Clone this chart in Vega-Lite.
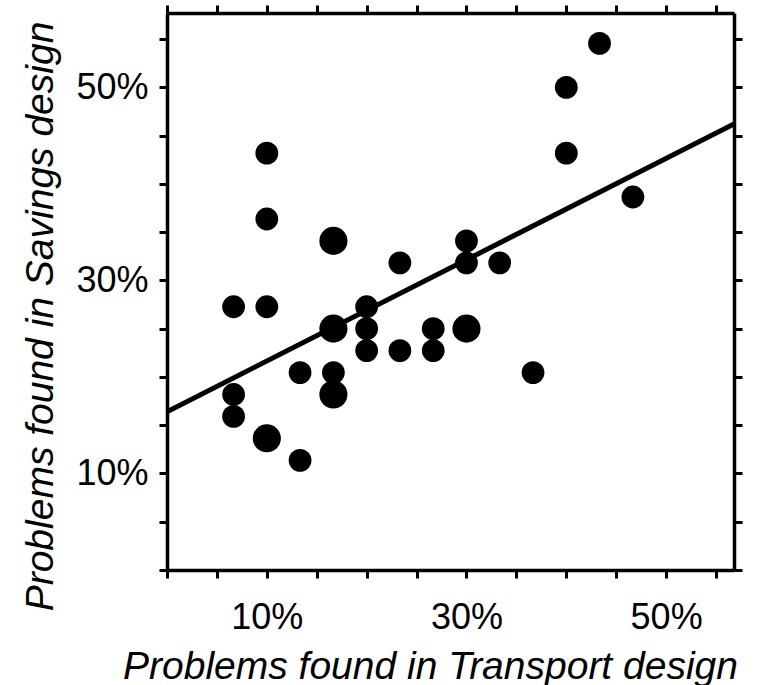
{
  "$schema": "https://vega.github.io/schema/vega-lite/v6.json",
  "autosize": {"type": "none"},
  "padding": {"left": 167, "top": 13, "right": 28, "bottom": 115},
  "width": 567,
  "height": 557,
  "background": "white",
  "config": {
    "view": {"stroke": null},
    "font": "Liberation Sans",
    "axis": {
      "domainColor": "black",
      "domainWidth": 3.5,
      "tickColor": "black",
      "tickWidth": 3,
      "tickSize": 8,
      "grid": false,
      "labelFont": "Liberation Sans",
      "labelFontSize": 36,
      "labelColor": "black",
      "labelFlush": false,
      "labelOverlap": false,
      "titleFont": "Liberation Sans",
      "titleFontSize": 39,
      "titleFontStyle": "italic",
      "titleFontWeight": "normal",
      "titleColor": "black"
    }
  },
  "resolve": {"axis": {"x": "independent", "y": "independent"}},
  "layer": [
    {
      "data": {
        "values": [
          {"transport": 10.0, "savings": 43.18, "n": 1},
          {"transport": 10.0, "savings": 36.36, "n": 1},
          {"transport": 6.67, "savings": 27.27, "n": 1},
          {"transport": 10.0, "savings": 27.27, "n": 1},
          {"transport": 16.67, "savings": 34.09, "n": 2},
          {"transport": 23.33, "savings": 31.82, "n": 1},
          {"transport": 30.0, "savings": 34.09, "n": 1},
          {"transport": 30.0, "savings": 31.82, "n": 1},
          {"transport": 33.33, "savings": 31.82, "n": 1},
          {"transport": 40.0, "savings": 50.0, "n": 1},
          {"transport": 40.0, "savings": 43.18, "n": 1},
          {"transport": 43.33, "savings": 54.55, "n": 1},
          {"transport": 46.67, "savings": 38.64, "n": 1},
          {"transport": 36.67, "savings": 20.45, "n": 1},
          {"transport": 20.0, "savings": 27.27, "n": 1},
          {"transport": 20.0, "savings": 25.0, "n": 1},
          {"transport": 20.0, "savings": 22.73, "n": 1},
          {"transport": 16.67, "savings": 25.0, "n": 2},
          {"transport": 23.33, "savings": 22.73, "n": 1},
          {"transport": 26.67, "savings": 25.0, "n": 1},
          {"transport": 26.67, "savings": 22.73, "n": 1},
          {"transport": 30.0, "savings": 25.0, "n": 2},
          {"transport": 13.33, "savings": 20.45, "n": 1},
          {"transport": 16.67, "savings": 20.45, "n": 1},
          {"transport": 16.67, "savings": 18.18, "n": 2},
          {"transport": 6.67, "savings": 18.18, "n": 1},
          {"transport": 6.67, "savings": 15.91, "n": 1},
          {"transport": 10.0, "savings": 13.64, "n": 2},
          {"transport": 13.33, "savings": 11.36, "n": 1}
        ]
      },
      "mark": {"type": "circle", "color": "black", "opacity": 1},
      "encoding": {
        "x": {
          "field": "transport", "type": "quantitative",
          "scale": {"domain": [0, 56.8], "nice": false, "zero": false},
          "axis": {
            "orient": "bottom",
            "values": [0, 5, 10, 15, 20, 25, 30, 35, 40, 45, 50, 55],
            "labelExpr": "datum.value == 10 || datum.value == 30 || datum.value == 50 ? datum.value + '%' : ''",
            "labelPadding": 22,
            "title": "Problems found in Transport design",
            "titleX": 263,
            "titleY": 108,
            "titleAlign": "center",
            "titleBaseline": "alphabetic"
          }
        },
        "y": {
          "field": "savings", "type": "quantitative",
          "scale": {"domain": [0, 57.7], "nice": false, "zero": false},
          "axis": {
            "orient": "left",
            "values": [0, 5, 10, 15, 20, 25, 30, 35, 40, 45, 50, 55],
            "labelExpr": "datum.value == 10 || datum.value == 30 || datum.value == 50 ? datum.value + '%' : ''",
            "labelPadding": 11,
            "title": "Problems found in Savings design",
            "titleX": -115,
            "titleY": 303,
            "titleAngle": -90,
            "titleAlign": "center",
            "titleBaseline": "alphabetic"
          }
        },
        "size": {
          "field": "n", "type": "quantitative",
          "scale": {"domain": [1, 2], "range": [519, 789], "zero": false},
          "legend": null
        }
      }
    },
    {
      "data": {
        "values": [
          {"transport": 0, "savings": 16.4},
          {"transport": 56.8, "savings": 46.2}
        ]
      },
      "mark": {"type": "line", "color": "black", "strokeWidth": 5, "clip": true},
      "encoding": {
        "x": {
          "field": "transport", "type": "quantitative",
          "scale": {"domain": [0, 56.8], "nice": false, "zero": false},
          "axis": {
            "orient": "top",
            "values": [0, 5, 10, 15, 20, 25, 30, 35, 40, 45, 50, 55],
            "labels": false,
            "title": null
          }
        },
        "y": {
          "field": "savings", "type": "quantitative",
          "scale": {"domain": [0, 57.7], "nice": false, "zero": false},
          "axis": {
            "orient": "right",
            "values": [0, 5, 10, 15, 20, 25, 30, 35, 40, 45, 50, 55],
            "labels": false,
            "title": null
          }
        }
      }
    }
  ]
}
